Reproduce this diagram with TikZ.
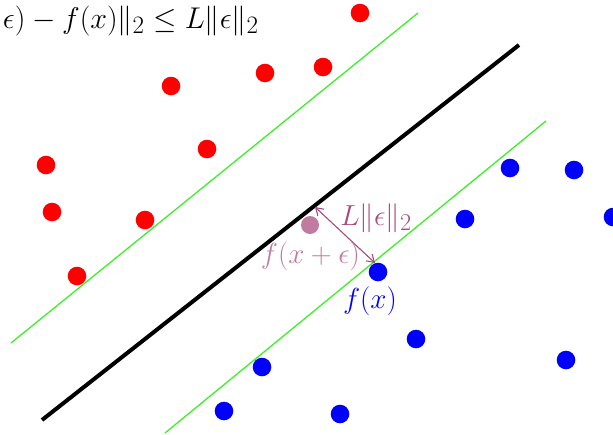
\documentclass[tikz,border=0pt]{standalone}
\usepackage{amsmath}
\usetikzlibrary{arrows.meta}
\definecolor{lgreen}{RGB}{60,240,40}
\definecolor{mauve}{RGB}{166,77,121}
\definecolor{lmauve}{RGB}{194,123,160}
\tikzset{
  reddot/.style={circle,fill=red,draw=none,inner sep=0pt,minimum size=18.6pt},
  bluedot/.style={circle,fill=blue,draw=none,inner sep=0pt,minimum size=18.6pt},
  pinkdot/.style={circle,fill=lmauve,draw=none,inner sep=0pt,minimum size=18pt},
  margin/.style={lgreen,line width=1.3pt},
  boundary/.style={black,line width=4pt},
  lbl/.style={inner sep=0pt,font=\Huge,scale=1.166}
}
\begin{document}
\begin{tikzpicture}[x=1pt,y=-1pt]
\useasboundingbox (0,0) rectangle (613,434);
\clip (0,0) rectangle (613,434);
% lines
\coordinate (g1a) at (11,343); \coordinate (g1b) at (418,13);
\coordinate (g2a) at (165,433); \coordinate (g2b) at (546,121);
\coordinate (ba) at (42,420); \coordinate (bb) at (519,45);
\draw[margin] (g1a) -- (g1b);
\draw[margin] (g2a) -- (g2b);
\draw[boundary] (ba) -- (bb);
% red dots
\node[reddot] (r1) at (360,13) {};
\node[reddot] (r2) at (171,86) {};
\node[reddot] (r3) at (265,73) {};
\node[reddot] (r4) at (323,67) {};
\node[reddot] (r5) at (207,149) {};
\node[reddot] (r6) at (46,165) {};
\node[reddot] (r7) at (52,212) {};
\node[reddot] (r8) at (145,220) {};
\node[reddot] (r9) at (77,276) {};
% blue dots
\node[bluedot] (b1) at (510,168) {};
\node[bluedot] (b2) at (574,170) {};
\node[bluedot] (b3) at (465,219) {};
\node[bluedot] (b4) at (613,217) {};
\node[bluedot] (b5) at (378,272) {};
\node[bluedot] (b6) at (416,339) {};
\node[bluedot] (b7) at (566,360) {};
\node[bluedot] (b8) at (262,367) {};
\node[bluedot] (b9) at (224,411) {};
\node[bluedot] (b10) at (340,414) {};
% perturbed point
\node[pinkdot] (p) at (310,225) {};
\coordinate (a1) at (315,207);
\coordinate (a2) at (375,263);
\draw[mauve,line width=1.1pt,{Straight Barb[length=7pt,width=9pt]}-{Straight Barb[length=7pt,width=9pt]}] (a1) -- (a2);
% labels
\node[lbl,text=mauve] (lL) at (376,218) {$L\|\epsilon\|_2$};
\node[lbl,text=lmauve] (lfxe) at (310.5,256) {$f(x+\epsilon)$};
\node[lbl,text=blue] (lfx) at (370,301) {$f(x)$};
\node[inner sep=0pt,anchor=base east,font=\Huge,scale=1.206] (formula) at (259,28) {$\|f(x+\epsilon)-f(x)\|_2\leq L\|\epsilon\|_2$};
\end{tikzpicture}
\end{document}
